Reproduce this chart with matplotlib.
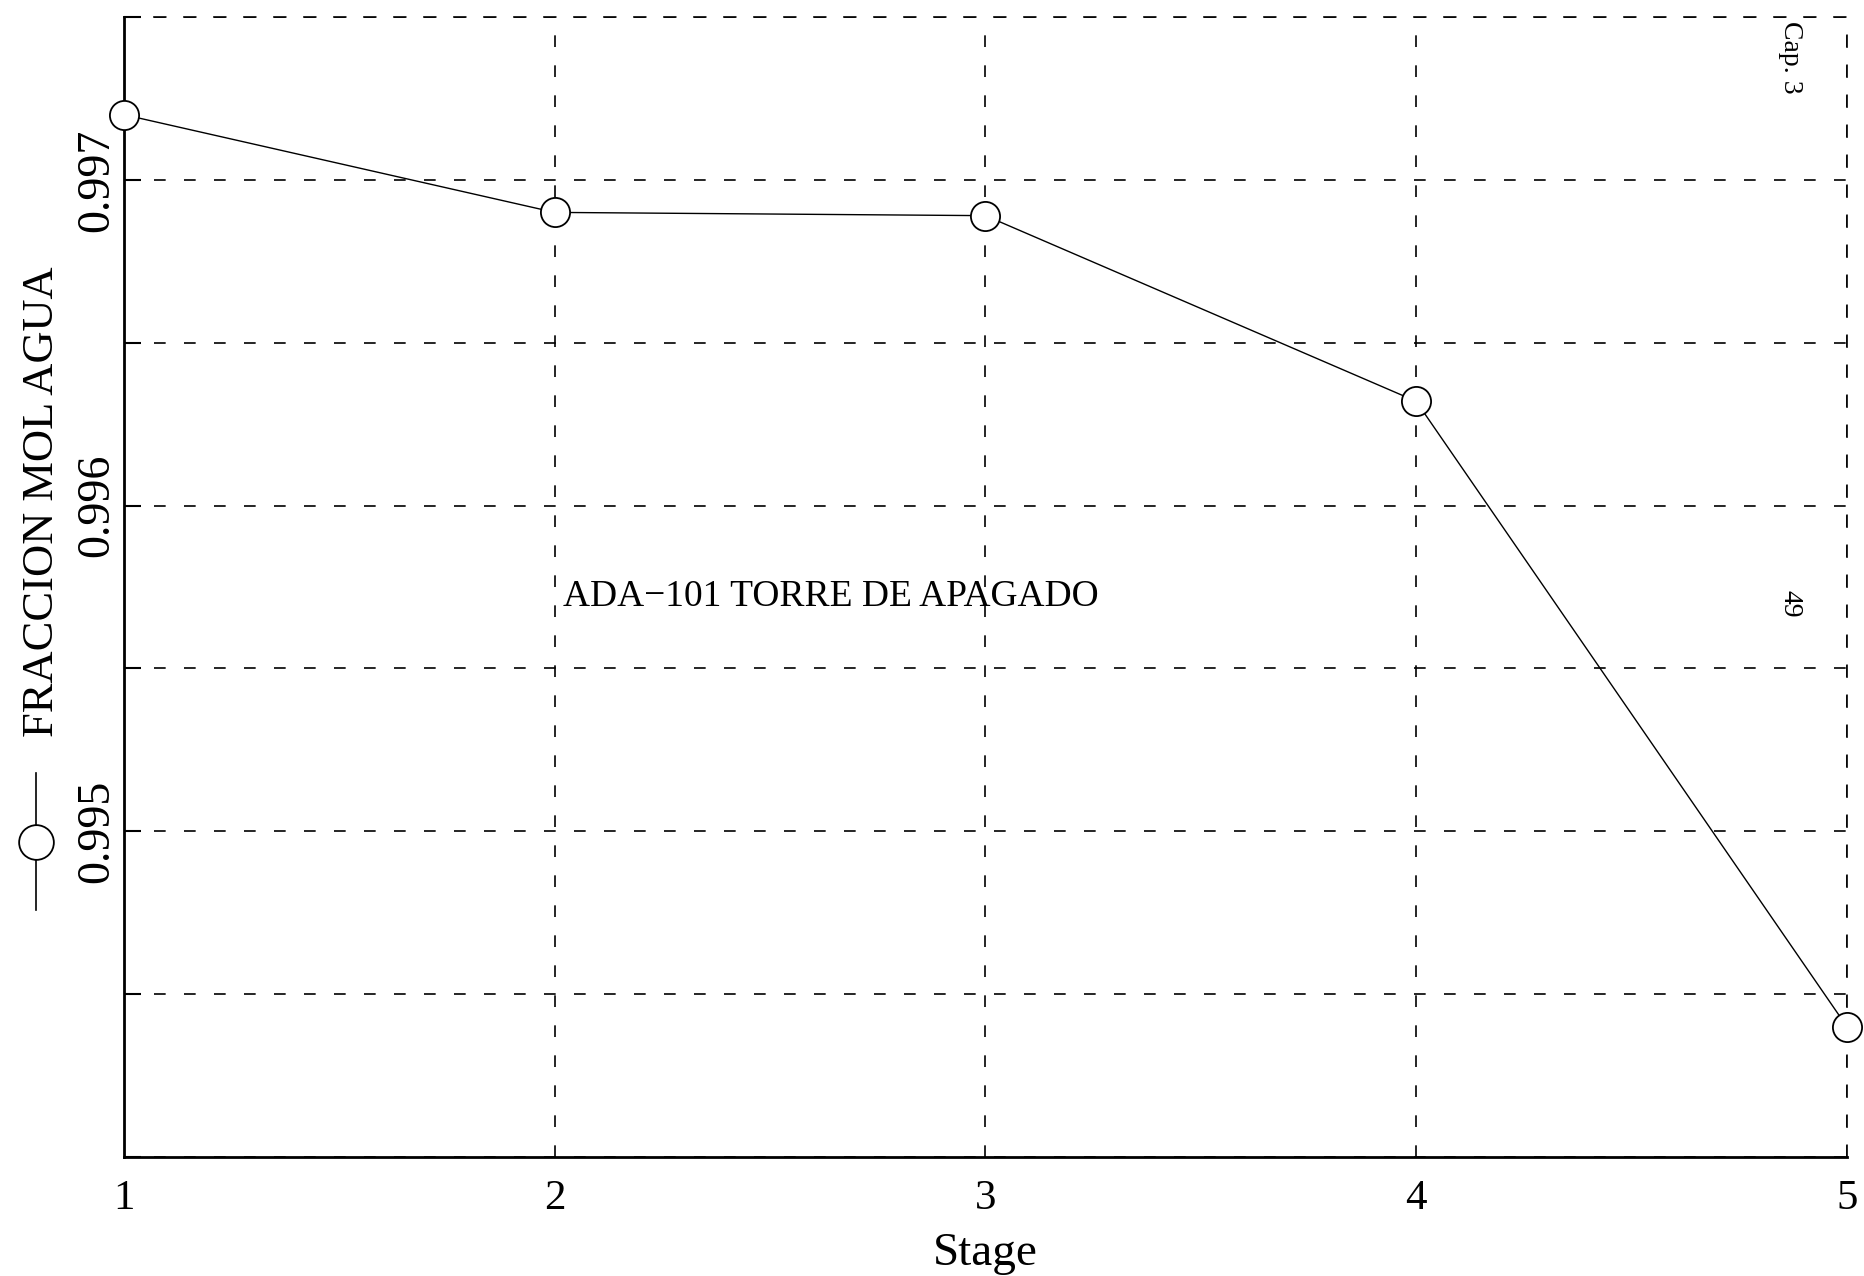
import numpy as np
import matplotlib
matplotlib.use('Agg')
import matplotlib.pyplot as plt
from matplotlib.lines import Line2D
from matplotlib.ticker import MultipleLocator, FuncFormatter

plt.rcParams['font.family'] = ['Liberation Serif', 'DejaVu Serif']

# data
stages = [1, 2, 3, 4, 5]
x_agua = [0.99720, 0.99690, 0.99689, 0.99632, 0.99440]
xtick_labels = ['1', '2', '3', '4', '5']
ytick_shown = [0.995, 0.996, 0.997]
series_label = 'FRACCION MOL AGUA'
note = 'ADA\u2212101 TORRE DE APAGADO'

DASH = (0, (7, 11))


def ytick_fmt(v, pos):
    # only the labelled values of the original axis
    for t in ytick_shown:
        if abs(v - t) < 1e-7:
            return '%.3f' % t
    return ''


fig = plt.figure(figsize=(18.65, 12.76), dpi=100)
ax = fig.add_axes([0.0665, 0.0933, 0.9238, 0.8934])

ax.plot(stages, x_agua, color='black', lw=1.0, marker='o', ms=21,
        mfc='white', mec='black', mew=1.3, clip_on=False, zorder=5)

ax.set_xlim(1, 5)
ax.set_ylim(0.994, 0.9975)
ax.set_xticks(stages)
ax.set_xticklabels(xtick_labels)
ax.yaxis.set_major_locator(MultipleLocator(0.001))
ax.yaxis.set_minor_locator(MultipleLocator(0.0005))
ax.yaxis.set_major_formatter(FuncFormatter(ytick_fmt))

ax.grid(which='both', axis='y', color='black', lw=1.2, linestyle=DASH)
ax.grid(which='major', axis='x', color='black', lw=1.2, linestyle=DASH)

ax.tick_params(axis='x', direction='in', length=0, pad=16, labelsize=31)
ax.tick_params(axis='y', which='major', direction='in', length=12, width=1.5,
               pad=4, labelsize=33, labelrotation=90)
ax.tick_params(axis='y', which='minor', direction='in', length=12, width=1.5)
for lbl in ax.get_yticklabels():
    lbl.set_va('center')

for side in ['left', 'bottom']:
    ax.spines[side].set_linewidth(2.0)
for side in ['top', 'right']:
    ax.spines[side].set_linewidth(1.2)
    ax.spines[side].set_linestyle(DASH)

ax.set_xlabel('Stage', fontsize=34)
ax.xaxis.set_label_coords(0.5, -0.066)
ax.xaxis.label.set_va('top')

ax.text(2.02, 0.99572, note, fontsize=27, va='center', ha='left')

# rotated legend-like key on the left
fig.add_artist(Line2D([0.0193, 0.0193], [0.2868, 0.3942], color='black', lw=1.2,
                      transform=fig.transFigure))
fig.add_artist(Line2D([0.0193], [0.340], color='black', marker='o', ms=25,
                      mfc='white', mec='black', mew=1.3, transform=fig.transFigure))
fig.text(0.0225, 0.607, series_label, rotation=90, fontsize=32,
         ha='center', va='center')

# page marks
fig.text(0.960, 0.955, 'Cap. 3', rotation=-90, fontsize=20, ha='center', va='center')
fig.text(0.960, 0.527, '49', rotation=-90, fontsize=20, ha='center', va='center')

fig.savefig('out.png', dpi=100)
